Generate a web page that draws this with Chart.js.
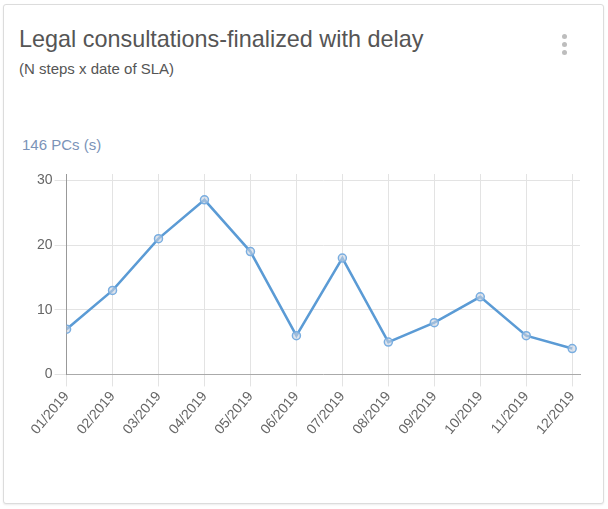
<!DOCTYPE html>
<html>
<head>
<meta charset="utf-8">
<script src="https://cdn.jsdelivr.net/npm/chart.js@4"></script>
<style>
  html, body { margin: 0; padding: 0; background: #fff; width: 608px; height: 509px; overflow: hidden; font-family: "Liberation Sans", Arial, sans-serif; }
  .card { position: absolute; left: 3px; top: 4px; width: 599px; height: 498px; border: 1px solid #dcdcdc; border-radius: 3px; box-shadow: 0 1px 2px rgba(0,0,0,0.08); background: #fff; }
  .title { position: absolute; left: 15px; top: 21px; font-size: 23.4px; color: #555; white-space: nowrap; }
  .subtitle { position: absolute; left: 15px; top: 55px; font-size: 15px; color: #555; white-space: nowrap; }
  .count { position: absolute; left: 18px; top: 131px; font-size: 15px; color: #7b93b8; white-space: nowrap; }
  .dot { position: absolute; left: 558px; width: 5px; height: 5px; border-radius: 50%; background: #bdbdbd; }
  #wrap { position: absolute; left: 0; top: 160px; width: 608px; height: 280px; }
</style>
</head>
<body>
<div class="card">
  <div class="title">Legal consultations-finalized with delay</div>
  <div class="subtitle">(N steps x date of SLA)</div>
  <div class="count">146 PCs (s)</div>
  <div class="dot" style="top:29px"></div>
  <div class="dot" style="top:37px"></div>
  <div class="dot" style="top:45px"></div>
</div>
<div id="wrap"><canvas id="c"></canvas></div>
<script>
const categories = ["01/2019","02/2019","03/2019","04/2019","05/2019","06/2019","07/2019","08/2019","09/2019","10/2019","11/2019","12/2019"];
const values = [7, 13, 21, 27, 19, 6, 18, 5, 8, 12, 6, 4];
const yTicks = [0, 10, 20, 30];

const points = values.map((v, i) => ({ x: i, y: v }));

new Chart(document.getElementById('c'), {
  type: 'line',
  data: {
    datasets: [{
      data: points,
      borderColor: '#5b9bd5',
      borderWidth: 2.5,
      pointRadius: 4,
      pointBorderWidth: 1.5,
      pointBorderColor: '#7aaee0',
      pointBackgroundColor: 'rgba(200,210,225,0.6)',
      tension: 0,
      fill: false
    }]
  },
  options: {
    responsive: true,
    maintainAspectRatio: false,
    animation: false,
    layout: { padding: { left: 35, right: 28, top: 14, bottom: 0 } },
    plugins: { legend: { display: false }, tooltip: { enabled: false } },
    scales: {
      x: {
        type: 'linear',
        min: 0,
        max: categories.length - 1 + 0.17,
        afterBuildTicks: (s) => { s.ticks = categories.map((c, i) => ({ value: i })); },
        ticks: {
          autoSkip: false,
          minRotation: 50, maxRotation: 50,
          color: '#666',
          padding: 2,
          font: { family: '"Liberation Sans", Arial, sans-serif', size: 14 },
          callback: (v) => categories[v]
        },
        grid: { color: '#e3e3e3', tickLength: 12, drawTicks: true },
        border: { color: '#aaa', width: 1 }
      },
      y: {
        type: 'linear',
        min: 0,
        max: 31,
        afterBuildTicks: (s) => { s.ticks = yTicks.map(v => ({ value: v })); },
        ticks: {
          color: '#666',
          padding: 2,
          font: { family: '"Liberation Sans", Arial, sans-serif', size: 14 }
        },
        grid: { color: '#e3e3e3', tickLength: 12 },
        border: { color: '#999', width: 1 }
      }
    }
  }
});
</script>
</body>
</html>
